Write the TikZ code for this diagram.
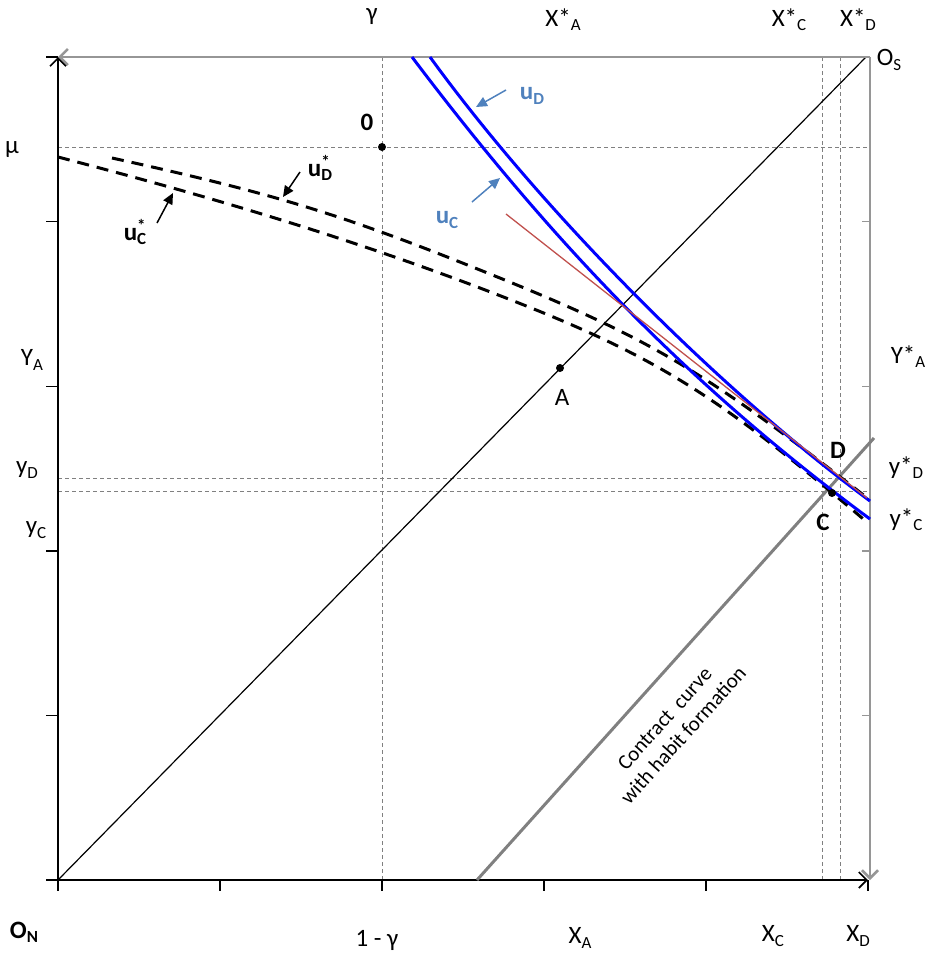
\documentclass[tikz,border=0pt]{standalone}
\usepackage{fontspec}
\setmainfont{Carlito}
\usetikzlibrary{arrows.meta,positioning,calc}
\definecolor{axisgrey}{RGB}{150,150,150}
\definecolor{guidegrey}{RGB}{128,128,128}
\definecolor{curveblue}{RGB}{0,0,255}
\definecolor{lblblue}{RGB}{79,129,189}
\definecolor{tanred}{RGB}{192,80,77}
\newcommand{\sbs}[1]{\raisebox{-0.35ex}{\fontsize{17}{17}\selectfont #1}}
\newcommand{\sps}[1]{\raisebox{0.75ex}{\fontsize{17}{17}\selectfont #1}}
\tikzset{
  axisk/.style={draw=black,line width=1.7pt,-{Straight Barb[length=8pt,width=16pt]}},
  axisg/.style={draw=axisgrey,line width=2.6pt,-{Straight Barb[length=8pt,width=16pt]}},
  tick/.style={draw=black,line width=1.4pt},
  tickg/.style={draw=axisgrey,line width=1.4pt},
  guide/.style={draw=guidegrey,line width=0.9pt,dash pattern=on 4pt off 3pt},
  ucurve/.style={draw=curveblue,line width=3pt},
  ustar/.style={draw=black,line width=3pt,dash pattern=on 12pt off 8pt},
  tanline/.style={draw=tanred,line width=1.3pt},
  ccurve/.style={draw=guidegrey,line width=3pt},
  diag/.style={draw=black,line width=1.2pt},
  ptr/.style={line width=1.5pt,-{Triangle[length=11pt,width=10pt]}},
  lbl/.style={font=\fontsize{25}{28}\selectfont,inner sep=0pt},
  lblb/.style={lbl,font=\fontsize{25}{28}\selectfont\bfseries},
  dot/.style={circle,fill=black,inner sep=0pt,minimum size=8pt},
}
\begin{document}
\begin{tikzpicture}[x=1pt,y=-1pt]
  \useasboundingbox (0,0) rectangle (928,954);
  % corners of the box
  \coordinate (ON) at (58,880);
  \coordinate (NW) at (58,57);
  \coordinate (SE) at (868,880);
  \coordinate (OS) at (866,57);
  \coordinate (NE) at (870,57);
  \coordinate (SEr) at (870,880);

  % points
  \coordinate (P0) at (382,147);
  \coordinate (PA) at (560,368);
  \coordinate (PD) at (840,478);
  \coordinate (PC) at (822,491);
  \coordinate (PCd) at (832,493);

  % dashed guides
  \draw[guide] (P0 |- NW) -- (P0 |- ON);
  \draw[guide] (P0 -| ON) -- (P0 -| SE);
  \draw[guide] (PD -| ON) -- (PD -| SE);
  \draw[guide] (PC -| ON) -- (PC -| SE);
  \draw[guide] (PC |- NW) -- (PC |- ON);
  \draw[guide] (PD |- NW) -- (PD |- ON);

  % diagonal
  \draw[diag] (ON) -- (OS);

  % ticks
  \foreach \y in {57,221.6,386.2,550.8,715.4,880}
    \draw[tick] (46,\y) -- (58,\y);
  \foreach \x in {58,220,382,544,706,868}
    \draw[tick] (\x,880) -- (\x,891);
  \foreach \y in {221.6,386.2,550.8,715.4}
    \draw[tickg] (862,\y) -- (870,\y);

  % axes
  \draw[axisg] (NE) -- (NW);
  \draw[axisg] (NE) -- (SEr);
  \draw[axisk] (ON) -- (NW);
  \draw[axisk] (ON) -- (SE);

  % contract curve
  \coordinate (cc1) at (477,880);
  \coordinate (cc2) at (874,438);
  \draw[ccurve] (cc1) -- (cc2);
  \node[font=\fontsize{21}{25}\selectfont,align=center,rotate=48,inner sep=0pt] (cclbl) at (674,727)
    {Contract\ \ curve\\with habit formation};

  % indifference curves
  \draw[ustar] (58,157) .. controls (198,193.4) and (340,234.8) .. (480,288)
    .. controls (651.4,353.1) and (709.6,388.4) .. (868,523);
  \draw[ustar] (112,158) .. controls (272.6,193.3) and (338.8,213.4) .. (480,270)
    .. controls (649.7,337.9) and (699.8,367.4) .. (866,497);
  \draw[ucurve] (412,57) .. controls (560,253) and (698,392) .. (870,519);
  \draw[ucurve] (430,57) .. controls (541,210) and (717,388) .. (870,501);

  % tangent
  \coordinate (t1) at (506,214);
  \coordinate (t2) at (867,498);
  \draw[tanline] (t1) -- (t2);

  % points
  \node[dot] (dot0) at (P0) {};
  \node[dot] (dotA) at (PA) {};
  \node[dot] (dotC) at (PCd) {};
  \node[lblb] (lbl0) at (367,122) {0};
  \node[lbl] (lblA) at (562,397) {A};
  \node[lblb] (lblD) at (838,450) {D};
  \node[lblb] (lblC) at (823,522) {C};

  % curve labels
  \node[lblb,text=lblblue] (luD) at (532,96) {u\sbs{D}};
  \node[lblb,text=lblblue] (luC) at (447,220) {u\sbs{C}};
  \node[lblb] (lusD) at (320,168) {u\rlap{\sps{*}}\sbs{D}};
  \node[lblb] (lusC) at (135,232) {u\rlap{\sps{*}}\sbs{C}};
  \coordinate (suD) at (506,90);
  \coordinate (auD) at (476,107);
  \coordinate (suC) at (472,202);
  \coordinate (auC) at (500,178);
  \coordinate (susD) at (300,172);
  \coordinate (ausD) at (283,197);
  \coordinate (susC) at (157,223);
  \coordinate (ausC) at (173,193);
  \draw[ptr,draw=lblblue,fill=lblblue] (suD) -- (auD);
  \draw[ptr,draw=lblblue,fill=lblblue] (suC) -- (auC);
  \draw[ptr] (susD) -- (ausD);
  \draw[ptr] (susC) -- (ausC);

  % axis labels
  \node[lbl] (gam) at (372,16) {γ};
  \node[lbl] (xsA) at (563,20) {X*\sbs{A}};
  \node[lbl] (xsC) at (789,20) {X*\sbs{C}};
  \node[lbl] (xsD) at (858,20) {X*\sbs{D}};
  \node[lbl] (os) at (889,60) {O\sbs{S}};
  \node[lblb] (on) at (24,932) {O\sbs{N}};
  \node[lbl] (omg) at (377,940) {1 - γ};
  \node[lbl] (xA) at (580,938) {X\sbs{A}};
  \node[lbl] (xC) at (773,936) {X\sbs{C}};
  \node[lbl] (xD) at (858,936) {X\sbs{D}};
  \node[lbl] (mu) at (12,150) {µ};
  \node[lbl] (yA) at (32,360) {Y\sbs{A}};
  \node[lbl] (yD) at (27,470) {y\sbs{D}};
  \node[lbl] (yC) at (36,530) {y\sbs{C}};
  \node[lbl] (ysA) at (908,357) {Y*\sbs{A}};
  \node[lbl] (ysD) at (906,468) {y*\sbs{D}};
  \node[lbl] (ysC) at (906,520) {y*\sbs{C}};
\end{tikzpicture}
\end{document}
